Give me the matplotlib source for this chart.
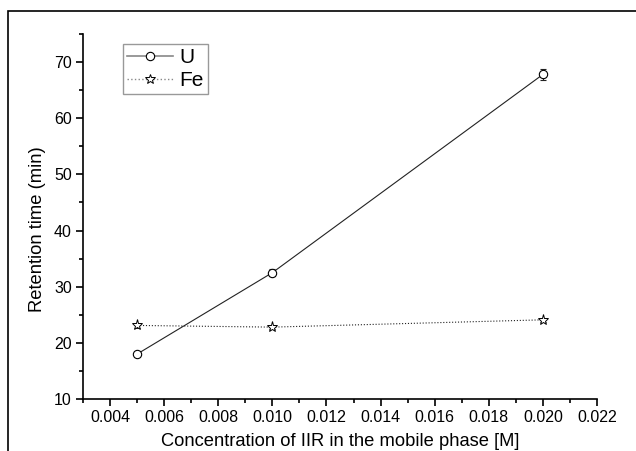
import matplotlib
matplotlib.use("Agg")
import matplotlib.pyplot as plt
from matplotlib.patches import Rectangle
from matplotlib.lines import Line2D
from matplotlib.ticker import MultipleLocator

plt.rcParams['font.family'] = ['Liberation Sans', 'DejaVu Sans']

conc = [0.005, 0.010, 0.020]
u_time = [18.0, 32.5, 67.8]
u_err = [0.4, 0.6, 1.0]
fe_time = [23.1, 22.8, 24.1]
fe_err = [0.4, 0.3, 0.4]

fig = plt.figure(figsize=(6.36, 4.51), dpi=100)
ax = fig.add_axes([83/636, 1-399/451, (597-83)/636, (399-34)/451])

ax.errorbar(conc, u_time, yerr=u_err, color='#222222', lw=0.8, marker='o', ms=6,
            mfc='white', mec='black', mew=0.8, capsize=2.5, elinewidth=0.8)
ax.errorbar(conc, fe_time, yerr=fe_err, color='#222222', lw=0.8, ls=':', marker='*', ms=8,
            mfc='white', mec='black', mew=0.7, capsize=2.5, elinewidth=0.8)

ax.set_xlim(0.003, 0.022)
ax.set_ylim(10, 75)
ax.xaxis.set_minor_locator(MultipleLocator(0.001))
ax.yaxis.set_minor_locator(MultipleLocator(5))
ax.set_xticks([0.004, 0.006, 0.008, 0.010, 0.012, 0.014, 0.016, 0.018, 0.020, 0.022])
ax.set_xticklabels(['0.004', '0.006', '0.008', '0.010', '0.012', '0.014', '0.016', '0.018', '0.020', '0.022'])
ax.set_yticks([10, 20, 30, 40, 50, 60, 70])

for s in ['top', 'right']:
    ax.spines[s].set_visible(False)
for s in ['left', 'bottom']:
    ax.spines[s].set_linewidth(1.2)
ax.tick_params(which='major', direction='out', length=5, width=1.2, labelsize=11.5, pad=3)
ax.tick_params(which='minor', direction='out', length=3, width=1.2)

ax.set_xlabel('Concentration of IIR in the mobile phase [M]', fontsize=13.2, labelpad=6)
ax.set_ylabel('Retention time (min)', fontsize=13.2)
ax.yaxis.set_label_coords(-(83-46)/514, 0.466)

handles = [
    Line2D([], [], color='#888888', lw=1.2, marker='o', ms=6, mfc='white', mec='black', mew=0.8),
    Line2D([], [], color='#888888', lw=1.0, ls=':', marker='*', ms=7, mfc='white', mec='black', mew=0.7),
]
leg = ax.legend(handles, ['U', 'Fe'], loc='upper left',
                bbox_to_anchor=((123-83)/514, (399-44)/365),
                fontsize=15, frameon=True, fancybox=False, edgecolor='#808080',
                handlelength=2.2, handletextpad=0.3, borderpad=0.2, labelspacing=0.2,
                borderaxespad=0)
leg.get_frame().set_linewidth(1.0)

# figure border (partially cut off at right/bottom)
top = 1 - 11/451
fig.patches.append(Rectangle((8/636, -0.2), 1.2, top + 0.2, transform=fig.transFigure,
                             fill=False, edgecolor='black', lw=1.2))

fig.savefig('out.png', dpi=100)
